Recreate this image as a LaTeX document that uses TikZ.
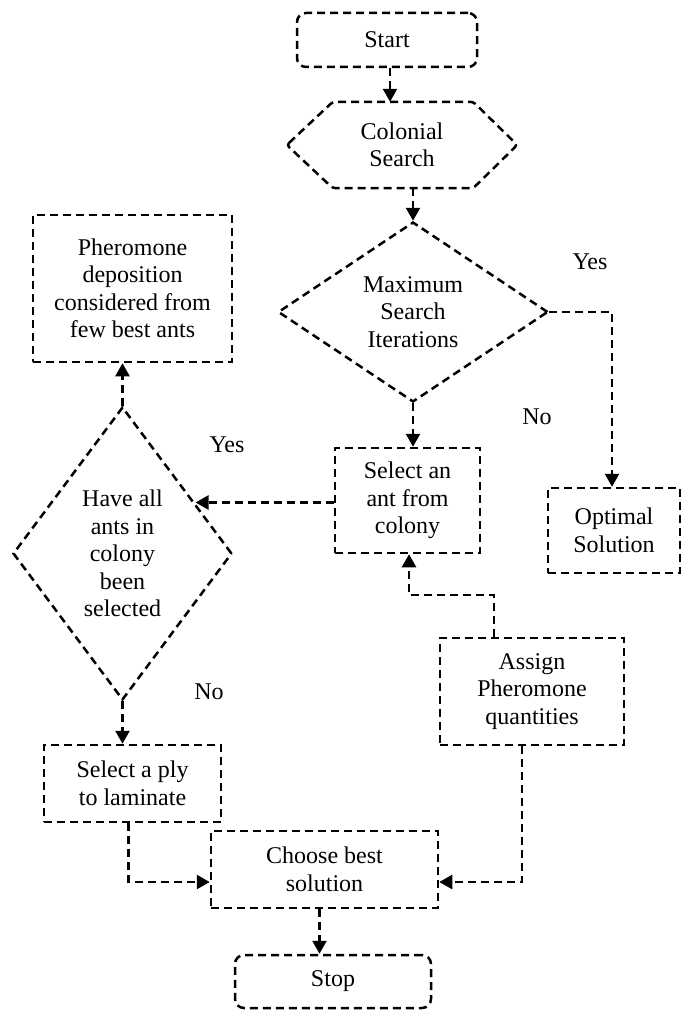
\documentclass[tikz,border=0pt]{standalone}
\usepackage{fontspec}
\setmainfont{Liberation Serif}
\usetikzlibrary{shapes.geometric,arrows.meta,calc}
\begin{document}
\begin{tikzpicture}[x=1pt,y=-1pt,
  every node/.style={font=\fontsize{24}{27.5}\selectfont, align=center, inner sep=0pt},
  dsh/.style={dash pattern=on 8pt off 5pt, line width=2.5pt},
  box/.style={draw, dsh, rectangle},
  arr/.style={dsh, -{Triangle[length=13pt,width=14pt]}},
  conn/.style={dsh}]
\useasboundingbox (0,0) rectangle (688,1011);
% nodes
\node[box, rounded corners=9pt, minimum width=180pt, minimum height=54pt] (start) at (387,40) {Start};
\node[minimum width=230pt, minimum height=86pt] (cs) at (402,145) {Colonial\\Search};
\draw[dsh, rounded corners=3pt] (cs.west) -- ([xshift=46pt]cs.north west) -- ([xshift=-44pt]cs.north east) -- (cs.east) -- ([xshift=-44pt]cs.south east) -- ([xshift=46pt]cs.south west) -- cycle;
\node[draw, dsh, diamond, aspect=1.5, minimum width=270pt, minimum height=180pt] (msi) at (413,312) {Maximum\\Search\\Iterations};
\node[box, minimum width=145pt, minimum height=105pt] (ant) at (407.5,500.5) {Select an\\ant from\\colony};
\node[box, minimum width=132pt, minimum height=85pt] (opt) at (614,530.5) {Optimal\\Solution};
\node[box, minimum width=199pt, minimum height=147pt] (ph) at (132.5,288.5) {Pheromone\\deposition\\considered from\\few best ants};
\node[draw, dsh, diamond, aspect=0.75, minimum width=219pt, minimum height=293pt] (ha) at (122.5,553.5) {Have all\\ants in\\colony\\been\\selected};
\node[box, minimum width=184pt, minimum height=107pt] (as) at (532,691.5) {Assign\\Pheromone\\quantities};
\node[box, minimum width=177pt, minimum height=77pt] (ply) at (132.5,783.5) {Select a ply\\to laminate};
\node[box, minimum width=227pt, minimum height=77pt] (cb) at (324.5,869.5) {Choose best\\solution};
\node[box, rounded corners=9pt, minimum width=196pt, minimum height=53pt] (stop) at (333,981.5) {Stop};
% labels
\node (y1) at (590,262) {Yes};
\node (n1) at (537,417) {No};
\node (y2) at (227,445) {Yes};
\node (n2) at (209,692) {No};
% connectors
\draw[arr] ([xshift=3pt]start.south) -- ([xshift=3pt]start.south |- cs.north);
\draw[arr] (cs.south -| msi.north) -- (msi.north);
\draw[arr] (msi.east) -| ([xshift=-2pt]opt.north);
\draw[arr] (msi.south) -- (msi.south |- ant.north);
\coordinate (haedge) at ($(ha.north)!0.66!(ha.east)$);
\draw[arr] ([yshift=-2pt]ant.west) -- ([yshift=-2pt]ant.west -| haedge);
\draw[arr] (ha.north) -- (ha.north |- ph.south);
\draw[arr] (ha.south) -- (ha.south |- ply.north);
\draw[arr] ([xshift=-4pt]ply.south) |- ([yshift=-12.5pt]cb.west);
\draw[arr] ([xshift=-10pt]as.south) |- ([yshift=-12.5pt]cb.east);
\draw[arr] ([xshift=-38pt]as.north) -- ++(0pt,42pt) -| ([xshift=1.5pt]ant.south);
\draw[arr] ([xshift=-5pt]cb.south) -- ([xshift=-5pt]cb.south |- stop.north);
\end{tikzpicture}
\end{document}
